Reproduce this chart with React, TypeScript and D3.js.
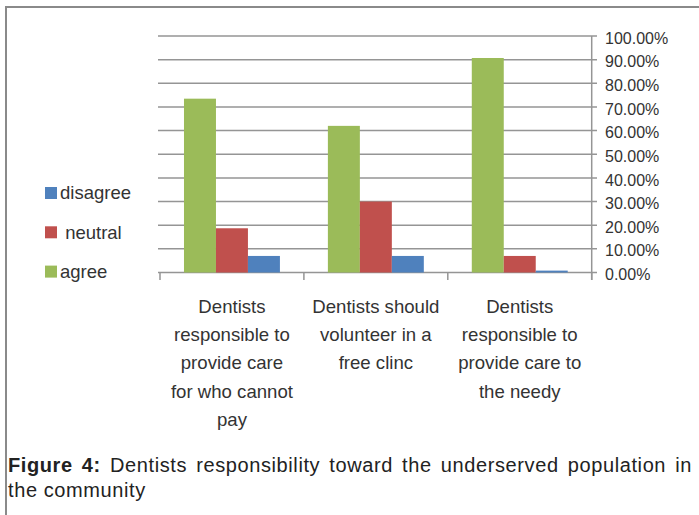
import { useLayoutEffect, useRef, useState } from 'react'
import * as d3 from 'd3'

// values (fractions of 1)
const categories = [
  'Dentists\nresponsible to\nprovide care\nfor who cannot\npay',
  'Dentists should\nvolunteer in a\nfree clinc',
  'Dentists\nresponsible to\nprovide care to\nthe needy',
]
const seriesNames = ['agree', 'neutral', 'disagree']
const agree = [0.735, 0.62, 0.907]
const neutral = [0.187, 0.3, 0.07]
const disagree = [0.07, 0.07, 0.008]
const yTicks = [0, 0.1, 0.2, 0.3, 0.4, 0.5, 0.6, 0.7, 0.8, 0.9, 1]
const legendLabels = ['disagree', ' neutral', 'agree']
const captionBold = 'Figure 4:'
const captionRest = ' Dentists responsibility toward the underserved population in'
const captionLine2 = 'the community'

const colors: Record<string, string> = {
  agree: '#9BBB59',
  neutral: '#C0504D',
  disagree: '#4F81BD',
}
const legendKeys = ['disagree', 'neutral', 'agree']

const font = '"Liberation Sans", Arial, Helvetica, sans-serif'

export default function App() {
  const width = 699
  const height = 515
  const captionRef = useRef<SVGTextElement>(null)
  const [wordSpacing, setWordSpacing] = useState(0)

  useLayoutEffect(() => {
    // justify the first caption line like the journal layout
    const el = captionRef.current
    if (!el) return
    const len = el.getComputedTextLength()
    const spaces = (captionBold + captionRest).split(' ').length - 1
    setWordSpacing((684 - len) / spaces)
  }, [])

  const values: Record<string, number[]> = { agree, neutral, disagree }

  const x0 = d3.scaleBand<number>()
    .domain(categories.map((_, i) => i))
    .range([160, 591.7])
    .padding(0)

  const x1 = d3.scaleBand<string>()
    .domain(seriesNames)
    .range([0, x0.bandwidth()])
    .paddingInner(0)
    .paddingOuter(0.75)

  const y = d3.scaleLinear().domain([0, 1]).range([272.5, 36])
  const fmt = d3.format('.2%')

  const axisX = 591.7
  const gridColor = '#959595'
  const boundaries = categories.map((_, i) => x0(i)!).concat([axisX])

  return (
    <svg
      width={width}
      height={height}
      style={{ position: 'absolute', left: 0, top: 0, background: '#fff' }}
      fontFamily={font}
    >
      <rect width={width} height={height} fill="#fff" />
      {/* frame */}
      <path d="M6,515 V7 H699" fill="none" stroke="#8a8a8a" strokeWidth={2} />

      {/* gridlines */}
      {yTicks.map(t => (
        <line key={t} x1={158} x2={597} y1={y(t)} y2={y(t)} stroke={gridColor} strokeWidth={1.5} />
      ))}
      {/* category ticks */}
      {boundaries.map((bx, i) => (
        <line key={i} x1={bx} x2={bx} y1={y(0)} y2={280} stroke={gridColor} strokeWidth={1.5} />
      ))}
      {/* right axis */}
      <line x1={axisX} x2={axisX} y1={y(1)} y2={280} stroke={gridColor} strokeWidth={1.5} />

      {/* bars */}
      {categories.map((_, ci) => (
        <g key={ci} transform={`translate(${x0(ci)},0)`}>
          {seriesNames.map(s => (
            <rect
              key={s}
              x={x1(s)}
              y={y(values[s][ci])}
              width={x1.bandwidth()}
              height={y(0) - y(values[s][ci])}
              fill={colors[s]}
            />
          ))}
        </g>
      ))}

      {/* y labels */}
      {yTicks.map(t => (
        <text key={t} x={605} y={y(t) + 2} dy="0.35em" fontSize={16} fill="#333">
          {fmt(t)}
        </text>
      ))}

      {/* category labels */}
      {categories.map((c, ci) => (
        <text key={ci} textAnchor="middle" fontSize={18.6} fill="#333">
          {c.split('\n').map((line, li) => (
            <tspan key={li} x={x0(ci)! + x0.bandwidth() / 2} y={312.5 + li * 28.4}>
              {line}
            </tspan>
          ))}
        </text>
      ))}

      {/* legend */}
      {legendKeys.map((k, i) => {
        const cy = 193 + i * 39.3
        return (
          <g key={k}>
            <rect x={45} y={cy - 6} width={12} height={12} fill={colors[k]} />
            <text x={60} y={cy} dy="0.35em" fontSize={18.5} fill="#333" xmlSpace="preserve">
              {legendLabels[i]}
            </text>
          </g>
        )
      })}

      {/* caption */}
      <text
        ref={captionRef}
        x={8}
        y={472}
        fontSize={20}
        fill="#222"
        letterSpacing={0.6}
        style={{ wordSpacing: `${wordSpacing}px` }}
        xmlSpace="preserve"
      >
        <tspan fontWeight="bold">{captionBold}</tspan>
        <tspan>{captionRest}</tspan>
      </text>
      <text x={8} y={497} fontSize={20} fill="#222" letterSpacing={0.6}>
        {captionLine2}
      </text>
    </svg>
  )
}
